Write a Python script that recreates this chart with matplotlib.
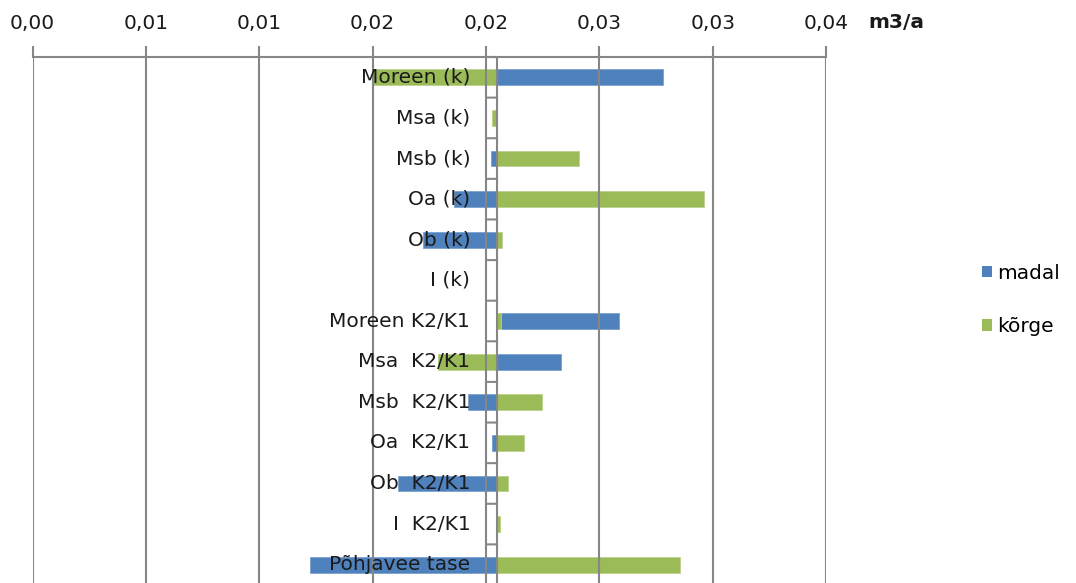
import matplotlib
matplotlib.use("Agg")
import matplotlib.pyplot as plt
import matplotlib.transforms as mtransforms
from matplotlib.patches import Patch
import numpy as np

# andmed
kategooriad = ["Moreen (k)", "Msa (k)", "Msb (k)", "Oa (k)", "Ob (k)", "I (k)",
               "Moreen K2/K1", "Msa  K2/K1", "Msb  K2/K1", "Oa  K2/K1",
               "Ob  K2/K1", "I  K2/K1", "Põhjavee tase"]
madal = [0.00733, 0.0, -0.00029, -0.00192, -0.00327, 0.0,
         0.00537, 0.00280, -0.00128, -0.00022, -0.00437, 0.0, -0.00828]
korge = [-0.00550, -0.00022, 0.00360, 0.00912, 0.00022, 0.0,
         0.00018, -0.00261, 0.00199, 0.00119, 0.00049, 0.00013, 0.00804]
telje_rist = 0.0205  # kus kategooriatelg x-telge lõikab
x_tickid = [0.0, 0.005, 0.01, 0.015, 0.02, 0.025, 0.03, 0.035]
x_sildid = ["0,00", "0,01", "0,01", "0,02", "0,02", "0,03", "0,03", "0,04"]
seeriad = ["madal", "kõrge"]

SININE = "#4F81BD"
ROHELINE = "#9BBB59"
HALL = "#868686"
FS = 14.5

plt.rcParams["font.family"] = ["DejaVu Sans"]

W, H = 1076, 583
fig = plt.figure(figsize=(W / 100, H / 100), dpi=100)
# joonise ala pikslites: x 32.5..826, y 57..585
ax = fig.add_axes([32.5 / W, (H - 585) / H, (826 - 32.5) / W, (585 - 57) / H])

y = np.arange(len(kategooriad))
ax.barh(y, madal, left=telje_rist, height=0.39, color=SININE,
        edgecolor="#7DA2CE", linewidth=0.6)
ax.barh(y, korge, left=telje_rist, height=0.39, color=ROHELINE,
        edgecolor="#BCD18E", linewidth=0.6)

ax.set_xlim(0, 0.035)
ax.set_ylim(len(kategooriad) - 0.5, -0.5)

# x-telg üleval
ax.xaxis.tick_top()
ax.set_xticks(x_tickid)
ax.set_xticklabels(x_sildid, fontsize=FS, color="#1a1a1a")
ax.tick_params(axis="x", direction="out", length=8, width=1.5, color=HALL, pad=9)
ax.set_yticks([])
ax.grid(axis="x", color=HALL, linewidth=1.5)
ax.set_axisbelow(False)
for s in ["left", "right", "bottom"]:
    ax.spines[s].set_visible(False)
ax.spines["top"].set_color(HALL)
ax.spines["top"].set_linewidth(1.5)

# kategooriatelg koos kriipsudega kategooriate vahel
ax.axvline(telje_rist, color=HALL, linewidth=1.5, zorder=2.6)
for k in range(len(kategooriad) + 1):
    ax.annotate("", xy=(telje_rist, k - 0.5), xytext=(-10, 0), textcoords="offset pixels",
                arrowprops=dict(arrowstyle="-", color=HALL, lw=1.5, shrinkA=0, shrinkB=0))

silt_trans = mtransforms.offset_copy(ax.transData, fig=fig, x=-27, y=0, units="dots")
for i, nimi in enumerate(kategooriad):
    ax.text(telje_rist, i, nimi, transform=silt_trans, ha="right", va="center",
            fontsize=FS, color="#1a1a1a", zorder=5)

fig.text(868 / W, 1 - 23 / H, "m3/a", fontsize=FS, fontweight="bold",
         ha="left", va="center", color="#1a1a1a")

kasitsed = [Patch(facecolor=SININE), Patch(facecolor=ROHELINE)]
fig.legend(kasitsed, seeriad, loc="center left", bbox_to_anchor=(982 / W, 1 - 300 / H),
           frameon=False, fontsize=FS, handlelength=0.5, handleheight=0.5,
           handletextpad=0.25, labelspacing=1.7, borderpad=0, borderaxespad=0)

fig.savefig("out.png", dpi=100)
